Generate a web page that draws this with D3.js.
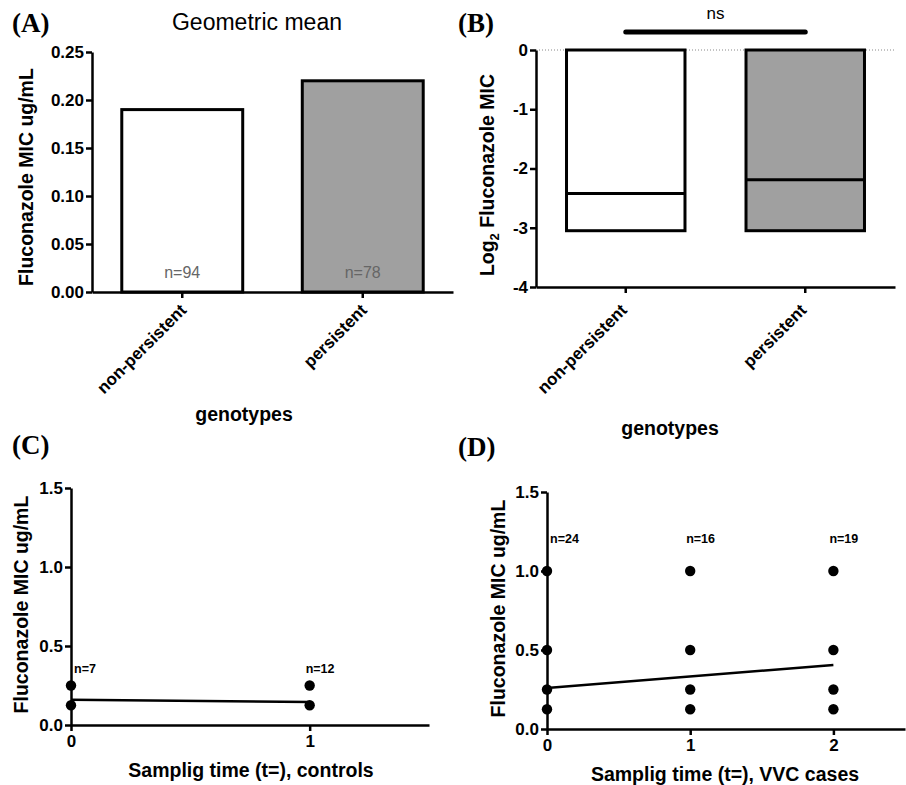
<!DOCTYPE html>
<html>
<head>
<meta charset="utf-8">
<script src="https://cdn.jsdelivr.net/npm/d3@7"></script>
<style>
  body { margin: 0; background: #fff; }
  svg { display: block; font-family: "Liberation Sans", Arial, sans-serif; }
  .axis path, .axis line { stroke: #000; stroke-width: 2.5px; }
  .axis text { font-size: 17px; font-weight: bold; fill: #000; }
  .title { font-size: 19.5px; font-weight: bold; }
  .panel { font-family: "Liberation Serif", "Times New Roman", serif; font-size: 27px; font-weight: bold; }
</style>
</head>
<body>
<svg width="906" height="785"></svg>
<script>
// panel A + B: genotypes
const genotypes = ["non-persistent", "persistent"];
const geoMean = [0.19, 0.22];
const nGeno = [94, 78];
const ticksA = [0, 0.05, 0.10, 0.15, 0.20, 0.25];
// floating bars, log2 MIC (min to max, line at mean)
const log2Min = [-3.05, -3.05];
const log2Max = [0, 0];
const log2Mean = [-2.42, -2.19];
const ticksB = [0, -1, -2, -3, -4];
// panel C: controls
const ctrlTime = [0, 0, 1, 1];
const ctrlMic = [0.25, 0.125, 0.25, 0.125];
const ctrlFitTime = [0, 1];
const ctrlFit = [0.16, 0.145];
const ctrlN = [7, 12];
// panel D: VVC cases
const vvcTime = [0, 0, 0, 0, 1, 1, 1, 1, 2, 2, 2, 2];
const vvcMic = [1, 0.5, 0.25, 0.125, 1, 0.5, 0.25, 0.125, 1, 0.5, 0.25, 0.125];
const vvcFitTime = [0, 2];
const vvcFit = [0.26, 0.405];
const vvcN = [24, 16, 19];
const ticksMic = [0, 0.5, 1.0, 1.5];

const svg = d3.select("svg");
const grey = "#a0a0a0";

function styleAxis(g) {
    g.attr("class", "axis");
    g.selectAll(".tick text").text(function() { return this.textContent.replace("\u2212", "-"); });
    return g;
}

function rotatedLabels(g, dx, dy) {
    g.selectAll(".tick text")
        .attr("text-anchor", "end")
        .attr("font-size", 17)
        .attr("transform", `translate(${dx},${dy}) rotate(-45)`)
        .attr("dx", 0).attr("dy", "0.35em").attr("y", 0).attr("x", 0);
}

// ---------- (A) ----------
{
    const x = d3.scaleBand().domain(genotypes).range([92, 453]).paddingInner(0.33).paddingOuter(0.165);
    const y = d3.scaleLinear().domain([0, 0.25]).range([292, 52]);

    const bars = genotypes.map((g, i) => ({ g, v: geoMean[i], n: nGeno[i] }));
    svg.selectAll(".barA").data(bars).enter().append("rect")
        .attr("x", d => x(d.g))
        .attr("y", d => y(d.v))
        .attr("width", x.bandwidth())
        .attr("height", d => y(0) - y(d.v))
        .attr("fill", (d, i) => i ? grey : "#fff")
        .attr("stroke", "#000").attr("stroke-width", 3);

    svg.selectAll(".nA").data(bars).enter().append("text")
        .attr("x", d => x(d.g) + x.bandwidth() / 2)
        .attr("y", y(0) - 14)
        .attr("text-anchor", "middle")
        .attr("font-size", 16).attr("fill", "#666")
        .text(d => "n=" + d.n);

    svg.append("g").attr("transform", `translate(92,0)`)
        .call(d3.axisLeft(y).tickValues(ticksA).tickFormat(d3.format(".2f")).tickSizeOuter(0).tickPadding(2))
        .call(styleAxis);
    svg.append("g").attr("transform", `translate(0,292)`)
        .call(d3.axisBottom(x).tickSizeOuter(0))
        .call(styleAxis).call(rotatedLabels, 1, 15);

    svg.append("text").attr("x", 257).attr("y", 30).attr("text-anchor", "middle")
        .attr("font-size", 23).text("Geometric mean");
    svg.append("text").attr("class", "title").attr("text-anchor", "middle")
        .attr("transform", "translate(33,177) rotate(-90)").text("Fluconazole MIC ug/mL");
    svg.append("text").attr("class", "title").attr("font-size", 21).attr("text-anchor", "middle")
        .attr("x", 244).attr("y", 421).text("genotypes");
    svg.append("text").attr("class", "panel").attr("x", 12).attr("y", 32).text("(A)");
}

// ---------- (B) ----------
{
    const x = d3.scaleBand().domain(genotypes).range([536, 895]).paddingInner(0.34).paddingOuter(0.17);
    const y = d3.scaleLinear().domain([-4, 0]).range([287, 50]);

    svg.append("line").attr("x1", 536).attr("x2", 895).attr("y1", y(0)).attr("y2", y(0))
        .attr("stroke", "#888").attr("stroke-width", 1).attr("stroke-dasharray", "1,2");

    const bars = genotypes.map((g, i) => ({ g, lo: log2Min[i], hi: log2Max[i], m: log2Mean[i] }));
    svg.selectAll(".barB").data(bars).enter().append("rect")
        .attr("x", d => x(d.g))
        .attr("y", d => y(d.hi))
        .attr("width", x.bandwidth())
        .attr("height", d => y(d.lo) - y(d.hi))
        .attr("fill", (d, i) => i ? grey : "#fff")
        .attr("stroke", "#000").attr("stroke-width", 3);
    svg.selectAll(".meanB").data(bars).enter().append("line")
        .attr("x1", d => x(d.g)).attr("x2", d => x(d.g) + x.bandwidth())
        .attr("y1", d => y(d.m)).attr("y2", d => y(d.m))
        .attr("stroke", "#000").attr("stroke-width", 3);

    // significance bar
    const cx = genotypes.map(g => x(g) + x.bandwidth() / 2);
    svg.append("line").attr("x1", cx[0]).attr("x2", cx[1]).attr("y1", 32).attr("y2", 32)
        .attr("stroke", "#000").attr("stroke-width", 5).attr("stroke-linecap", "round");
    svg.append("text").attr("x", (cx[0] + cx[1]) / 2).attr("y", 19).attr("text-anchor", "middle")
        .attr("font-size", 17).text("ns");

    svg.append("g").attr("transform", `translate(536,0)`)
        .call(d3.axisLeft(y).tickValues(ticksB).tickFormat(d3.format("d")).tickSizeOuter(0).tickPadding(2))
        .call(styleAxis);
    svg.append("g").attr("transform", `translate(0,287)`)
        .call(d3.axisBottom(x).tickSizeOuter(0))
        .call(styleAxis).call(rotatedLabels, -2, 20);

    const t = svg.append("text").attr("class", "title").attr("text-anchor", "middle")
        .attr("transform", "translate(494,175) rotate(-90)");
    t.append("tspan").text("Log");
    t.append("tspan").attr("font-size", 13).attr("dy", 5).text("2");
    t.append("tspan").attr("dy", -5).text(" Fluconazole MIC");
    svg.append("text").attr("class", "title").attr("font-size", 21).attr("text-anchor", "middle")
        .attr("x", 670).attr("y", 435).text("genotypes");
    svg.append("text").attr("class", "panel").attr("x", 458).attr("y", 32).text("(B)");
}

// ---------- scatter panels (C) and (D) ----------
function scatterPanel(o) {
    const x = d3.scaleLinear().domain(o.xDomain).range([o.left, o.right]);
    const y = d3.scaleLinear().domain([0, 1.5]).range([o.bottom, o.top]);

    svg.append("g").attr("transform", `translate(${o.left},0)`)
        .call(d3.axisLeft(y).tickValues(ticksMic).tickFormat(d3.format(".1f")).tickSizeOuter(0).tickPadding(2))
        .call(styleAxis);
    svg.append("g").attr("transform", `translate(0,${o.bottom})`)
        .call(d3.axisBottom(x).tickValues(o.xTicks).tickFormat(d3.format("d")).tickSizeOuter(0).tickPadding(4))
        .call(styleAxis);

    svg.append("path")
        .datum(o.fitT.map((t, i) => [t, o.fit[i]]))
        .attr("fill", "none").attr("stroke", "#000").attr("stroke-width", 2.5)
        .attr("d", d3.line().x(d => x(d[0])).y(d => y(d[1])));

    svg.selectAll(null).data(o.times.map((t, i) => [t, o.mic[i]])).enter().append("circle")
        .attr("cx", d => x(d[0])).attr("cy", d => y(d[1])).attr("r", 5.2).attr("fill", "#000");

    svg.selectAll(null).data(o.n).enter().append("text")
        .attr("x", (d, i) => x(i) + (i ? -4 : 3))
        .attr("y", y(o.nAt))
        .attr("font-size", 12.5).attr("font-weight", "bold")
        .text(d => "n=" + d);

    svg.append("text").attr("class", "title").attr("text-anchor", "middle")
        .attr("transform", `translate(${o.yTitleX},${(o.top + o.bottom) / 2 - 2}) rotate(-90)`)
        .text("Fluconazole MIC ug/mL");
    svg.append("text").attr("class", "title").attr("text-anchor", "middle")
        .attr("x", o.xTitleX).attr("y", o.bottom + 52).text(o.xTitle);
    svg.append("text").attr("class", "panel").attr("x", o.panelX).attr("y", o.panelY).text(o.label);
}

scatterPanel({
    left: 71, right: 429, top: 488, bottom: 725, xDomain: [0, 1.5], xTicks: [0, 1],
    times: ctrlTime, mic: ctrlMic, fitT: ctrlFitTime, fit: ctrlFit, n: ctrlN, nAt: 0.33,
    yTitleX: 28, xTitleX: 251, xTitle: "Samplig time (t=), controls",
    label: "(C)", panelX: 12, panelY: 454
});
scatterPanel({
    left: 547, right: 905, top: 492, bottom: 729, xDomain: [0, 2.5], xTicks: [0, 1, 2],
    times: vvcTime, mic: vvcMic, fitT: vvcFitTime, fit: vvcFit, n: vvcN, nAt: 1.18,
    yTitleX: 505, xTitleX: 725, xTitle: "Samplig time (t=), VVC cases",
    label: "(D)", panelX: 458, panelY: 456
});
</script>
</body>
</html>
